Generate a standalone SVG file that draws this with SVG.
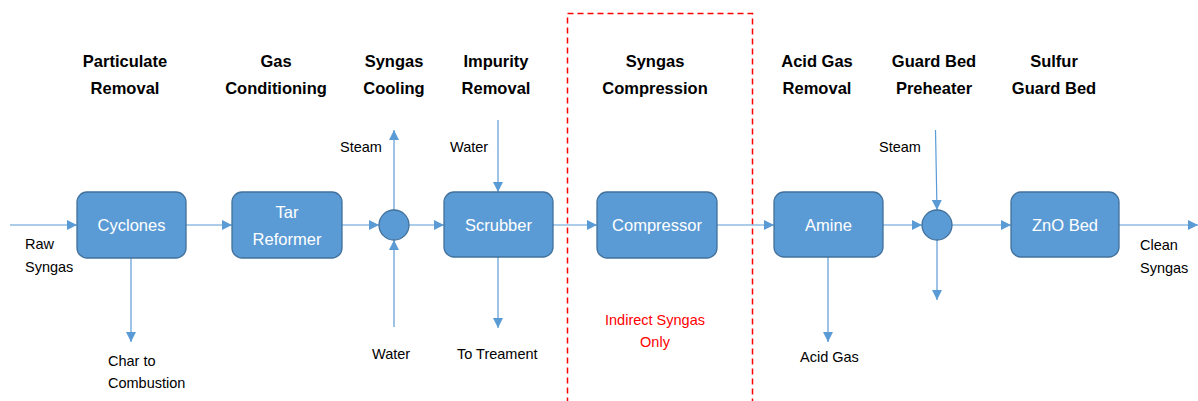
<svg xmlns="http://www.w3.org/2000/svg" width="1198" height="401" viewBox="0 0 1198 401">
  <defs>
    <marker id="arr" viewBox="0 0 10 10" refX="10" refY="5" markerWidth="10" markerHeight="10" markerUnits="userSpaceOnUse" orient="auto">
      <path d="M0,0 L10,5 L0,10 z" fill="#5B9BD5"/>
    </marker>
    <style>
      .box { fill: #5B9BD5; stroke: #41719C; stroke-width: 1.3; }
      .unit { fill: #FFFFFF; font-family: "Liberation Sans", Arial, sans-serif; font-size: 16.5px; text-anchor: middle; }
      .title { fill: #000000; font-family: "Liberation Sans", Arial, sans-serif; font-size: 16.5px; font-weight: bold; text-anchor: middle; }
      .lbl { fill: #000000; font-family: "Liberation Sans", Arial, sans-serif; font-size: 14.5px; }
      .note { fill: #FF0000; font-family: "Liberation Sans", Arial, sans-serif; font-size: 14.5px; text-anchor: middle; }
      .flow { stroke: #5B9BD5; stroke-width: 1.2; fill: none; marker-end: url(#arr); }
    </style>
  </defs>
  <rect width="1198" height="401" fill="#FFFFFF"/>

  <!-- compression section boundary -->
  <rect x="567.5" y="13.5" width="185" height="400" fill="none" stroke="#FF0000" stroke-width="1.5" stroke-dasharray="6,4"/>

  <!-- section headings -->
  <g id="headings">
    <text class="title" x="125" y="67">Particulate</text>
    <text class="title" x="125" y="94">Removal</text>
    <text class="title" x="276" y="67">Gas</text>
    <text class="title" x="276" y="94">Conditioning</text>
    <text class="title" x="394" y="67">Syngas</text>
    <text class="title" x="394" y="94">Cooling</text>
    <text class="title" x="496" y="67">Impurity</text>
    <text class="title" x="496" y="94">Removal</text>
    <text class="title" x="655" y="67">Syngas</text>
    <text class="title" x="655" y="94">Compression</text>
    <text class="title" x="817" y="67">Acid Gas</text>
    <text class="title" x="817" y="94">Removal</text>
    <text class="title" x="934" y="67">Guard Bed</text>
    <text class="title" x="934" y="94">Preheater</text>
    <text class="title" x="1054" y="67">Sulfur</text>
    <text class="title" x="1054" y="94">Guard Bed</text>
  </g>

  <!-- process streams -->
  <g id="connectors">
    <line class="flow" x1="10" y1="225" x2="77" y2="225"/>
    <line class="flow" x1="186" y1="225" x2="232" y2="225"/>
    <line class="flow" x1="342" y1="225" x2="379" y2="225"/>
    <line class="flow" x1="409" y1="225" x2="444" y2="225"/>
    <line class="flow" x1="553" y1="225" x2="597" y2="225"/>
    <line class="flow" x1="717" y1="225" x2="774" y2="225"/>
    <line class="flow" x1="883" y1="225" x2="922" y2="225"/>
    <line class="flow" x1="952" y1="225" x2="1011" y2="225"/>
    <line class="flow" x1="1119" y1="225" x2="1198" y2="225"/>
    <line class="flow" x1="131" y1="258" x2="131" y2="342"/>
    <line class="flow" x1="394" y1="210" x2="394" y2="130"/>
    <line class="flow" x1="394" y1="327" x2="394" y2="240"/>
    <line class="flow" x1="498" y1="120" x2="498" y2="192"/>
    <line class="flow" x1="498" y1="257" x2="498" y2="328"/>
    <line class="flow" x1="828" y1="257" x2="828" y2="342"/>
    <line class="flow" x1="935.5" y1="130" x2="937" y2="210"/>
    <line class="flow" x1="937" y1="240" x2="937" y2="300"/>
  </g>

  <!-- units -->
  <g id="cyclones">
    <rect class="box" x="77" y="192" width="109" height="66" rx="10"/>
    <text class="unit" x="131.5" y="231">Cyclones</text>
  </g>
  <g id="tar-reformer">
    <rect class="box" x="232" y="192" width="110" height="66" rx="10"/>
    <text class="unit" x="287" y="218">Tar</text>
    <text class="unit" x="287" y="245">Reformer</text>
  </g>
  <g id="cooler">
    <circle class="box" cx="394" cy="225" r="15"/>
  </g>
  <g id="scrubber">
    <rect class="box" x="444" y="192" width="109" height="65" rx="10"/>
    <text class="unit" x="498.5" y="231">Scrubber</text>
  </g>
  <g id="compressor">
    <rect class="box" x="597" y="192" width="120" height="66" rx="10"/>
    <text class="unit" x="657" y="231">Compressor</text>
  </g>
  <g id="amine">
    <rect class="box" x="774" y="192" width="109" height="65" rx="10"/>
    <text class="unit" x="828.5" y="231">Amine</text>
  </g>
  <g id="preheater">
    <circle class="box" cx="937" cy="225" r="15"/>
  </g>
  <g id="zno-bed">
    <rect class="box" x="1011" y="192" width="108" height="65" rx="10"/>
    <text class="unit" x="1065" y="231">ZnO Bed</text>
  </g>

  <!-- stream labels -->
  <g id="labels">
    <text class="lbl" x="25" y="249">Raw</text>
    <text class="lbl" x="25" y="272">Syngas</text>
    <text class="lbl" x="108" y="366">Char to</text>
    <text class="lbl" x="108" y="388">Combustion</text>
    <text class="lbl" x="340" y="152">Steam</text>
    <text class="lbl" x="372" y="359">Water</text>
    <text class="lbl" x="450" y="152">Water</text>
    <text class="lbl" x="457" y="359">To Treament</text>
    <text class="lbl" x="800" y="362">Acid Gas</text>
    <text class="lbl" x="879" y="152">Steam</text>
    <text class="lbl" x="1140" y="250">Clean</text>
    <text class="lbl" x="1140" y="273">Syngas</text>
    <text class="note" x="655" y="325">Indirect Syngas</text>
    <text class="note" x="655" y="347">Only</text>
  </g>
</svg>
